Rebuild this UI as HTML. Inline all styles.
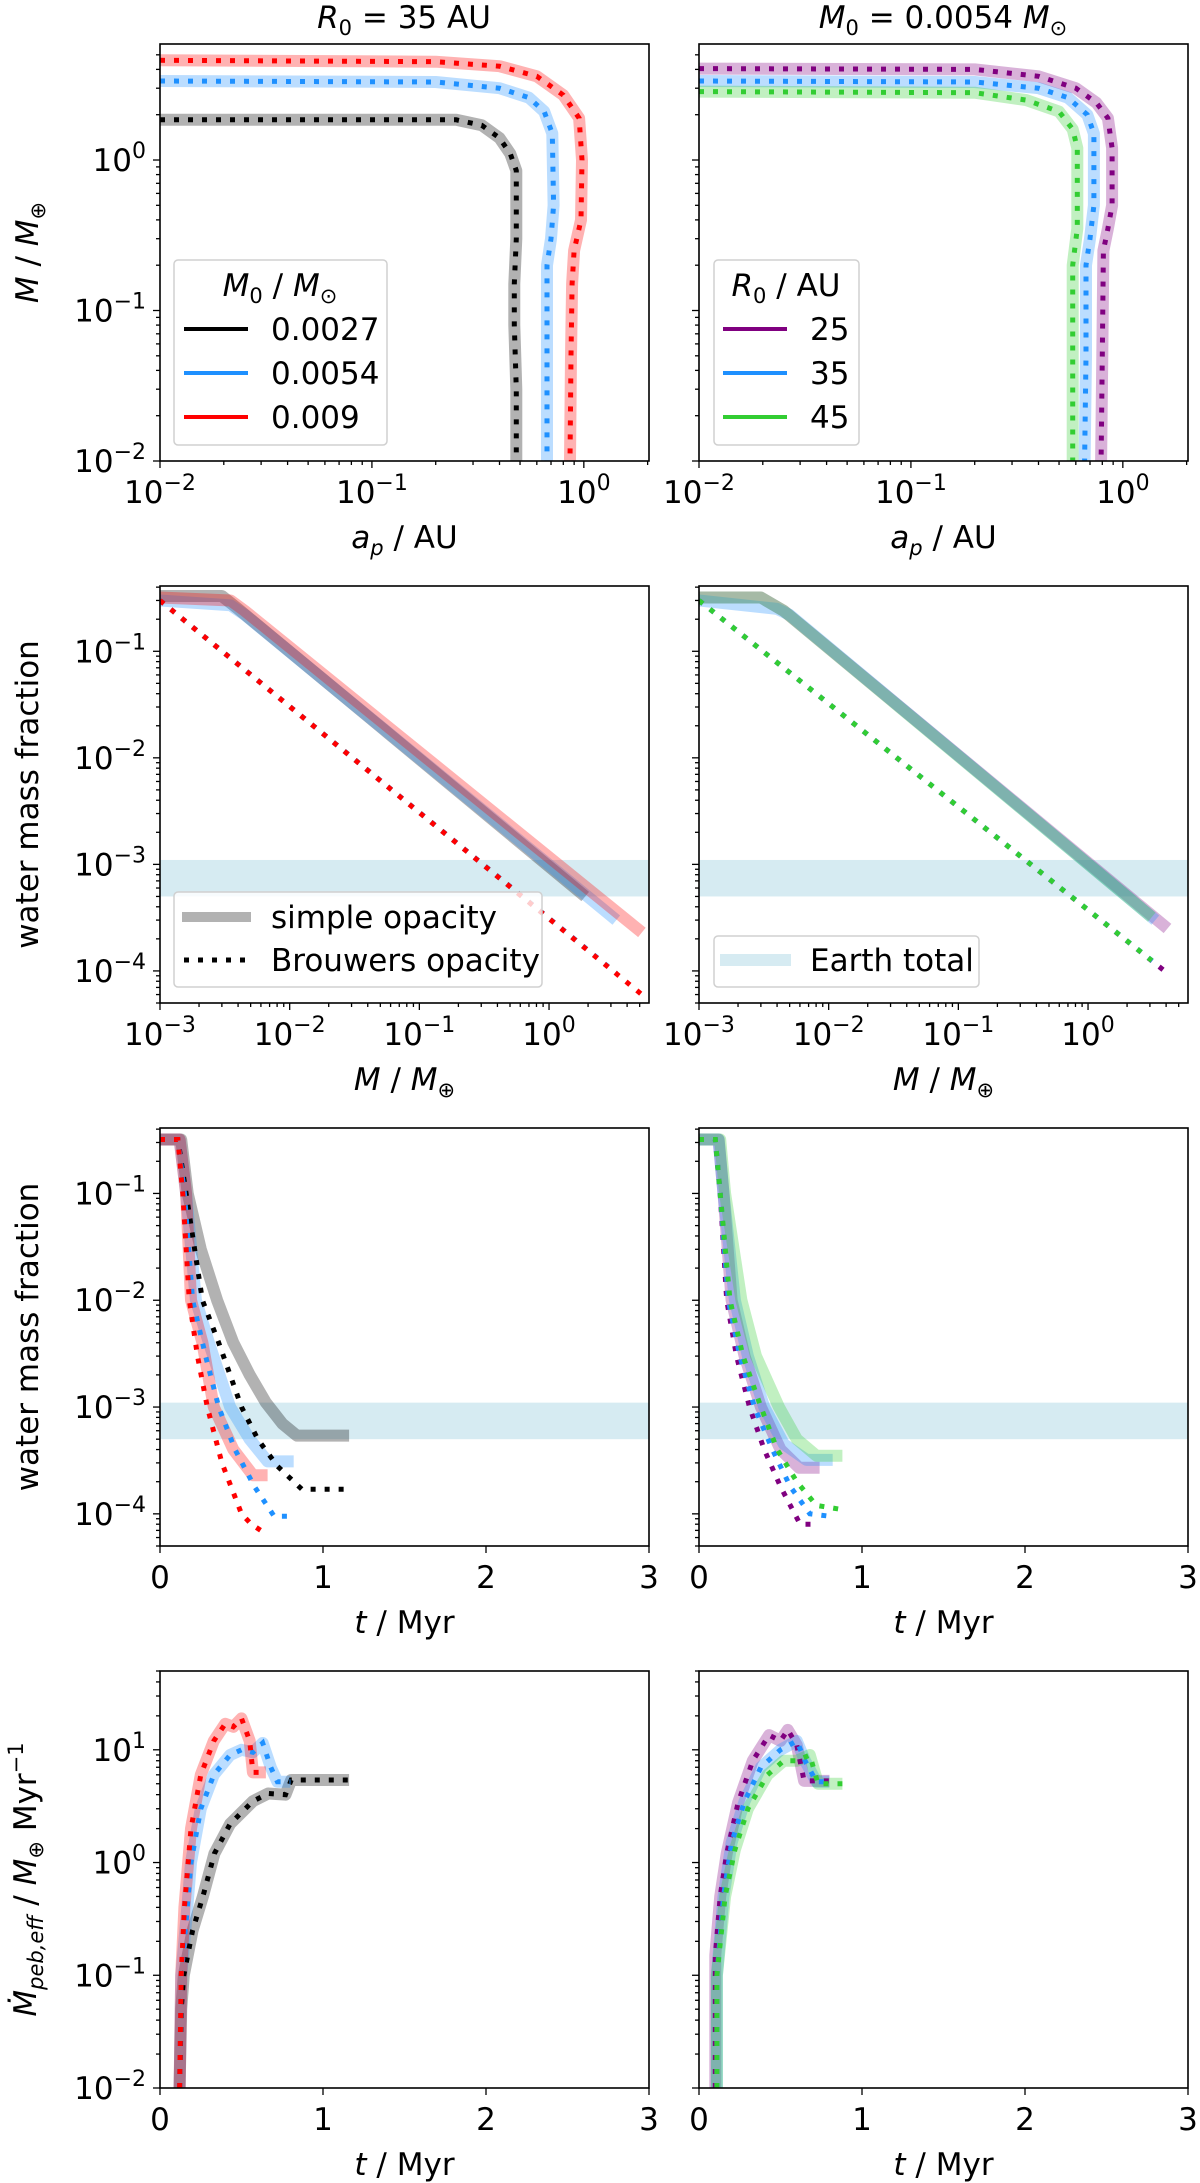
<!DOCTYPE html>
<html><head><meta charset="utf-8"><title>Planet formation panels</title>
<style>
html,body{margin:0;padding:0;background:#fff;}
svg{display:block;font-family:"DejaVu Sans","Liberation Sans",sans-serif;}
</style></head>
<body>
<svg id="fig" width="1200" height="2183" viewBox="0 0 1200 2183" xmlns="http://www.w3.org/2000/svg">
<rect width="1200" height="2183" fill="#fff"/>
<text x="404" y="28" font-size="31" text-anchor="middle"><tspan font-style="italic">R</tspan><tspan font-size="21" dy="7">0</tspan><tspan dy="-7"> = 35 AU</tspan></text>
<text x="943" y="28" font-size="31" text-anchor="middle"><tspan font-style="italic">M</tspan><tspan font-size="21" dy="7">0</tspan><tspan dy="-7"> = 0.0054 </tspan><tspan font-style="italic">M</tspan><tspan font-size="21" dy="7">⊙</tspan></text>
<g id="plots"></g>
</svg>
<script>
// ---------- Row 1: a_p vs M ----------
const r1_a_black=[0.01,0.25,0.33,0.4,0.45,0.48,0.48,0.47,0.47,0.48,0.48];
const r1_m_black=[1.85,1.85,1.7,1.4,1.1,0.85,0.3,0.15,0.08,0.03,0.01];
const r1_a_blue=[0.01,0.2,0.4,0.55,0.65,0.71,0.72,0.7,0.67,0.67,0.67];
const r1_m_blue=[3.35,3.3,3.0,2.6,2.1,1.5,0.5,0.3,0.2,0.05,0.01];
const r1_a_red=[0.01,0.2,0.4,0.6,0.8,0.95,0.98,0.97,0.9,0.88,0.87,0.86];
const r1_m_red=[4.6,4.5,4.2,3.6,2.7,1.9,1.0,0.4,0.25,0.15,0.05,0.01];
const r1_a_purple=[0.01,0.2,0.4,0.6,0.75,0.85,0.89,0.89,0.85,0.81,0.8,0.79];
const r1_m_purple=[4.05,4.0,3.6,3.0,2.4,1.9,1.2,0.5,0.35,0.25,0.05,0.01];
const r1_a_blue2=[0.01,0.2,0.4,0.55,0.68,0.73,0.73,0.7,0.67,0.67,0.66];
const r1_m_blue2=[3.35,3.3,3.0,2.6,2.0,1.5,0.5,0.3,0.2,0.05,0.01];
const r1_a_green=[0.01,0.2,0.35,0.5,0.58,0.61,0.61,0.58,0.58,0.58];
const r1_m_green=[2.85,2.8,2.5,2.1,1.6,1.2,0.35,0.2,0.05,0.01];
// ---------- Row 2: M vs water fraction ----------
const r2_m_grey=[1e-3,3e-3,4e-3,1.9];   const r2_w_grey=[0.33,0.33,0.25,5e-4];
const r2_m_blue=[1e-3,3.5e-3,4.5e-3,3.3]; const r2_w_blue=[0.30,0.27,0.22,3e-4];
const r2_m_red=[1e-3,3.5e-3,4.5e-3,5.2];  const r2_w_red=[0.32,0.30,0.24,2.3e-4];
const r2_md_black=[1e-3,1.9]; const r2_wd_black=[0.30,1.64e-4];
const r2_md_blue=[1e-3,3.3];  const r2_wd_blue=[0.30,9.5e-5];
const r2_md_red=[1e-3,5.2];   const r2_wd_red=[0.30,6e-5];
const r2_m_purple=[1e-3,3e-3,4.5e-3,4.1]; const r2_w_purple=[0.32,0.32,0.24,2.5e-4];
const r2_m_blueR=[1e-3,4e-3,5e-3,3.3];    const r2_w_blueR=[0.30,0.25,0.22,3e-4];
const r2_m_green=[1e-3,3e-3,4.5e-3,3.1];  const r2_w_green=[0.32,0.32,0.24,3.2e-4];
const r2_md_purple=[1e-3,4.1]; const r2_wd_purple=[0.30,9.5e-5];
const r2_md_blueR=[1e-3,3.3];  const r2_wd_blueR=[0.30,1.18e-4];
const r2_md_green=[1e-3,3.1];  const r2_wd_green=[0.30,1.25e-4];
const earthBand=[5e-4,1.1e-3];
// ---------- Row 3: t vs water fraction ----------
const r3_t_grey=[0,0.13,0.17,0.25,0.35,0.45,0.55,0.65,0.75,0.84,1.16];
const r3_w_grey=[0.32,0.32,0.1,0.03,0.01,0.004,0.002,0.0011,0.0007,0.00054,0.00054];
const r3_t_blue=[0,0.12,0.16,0.22,0.3,0.43,0.55,0.66,0.82];
const r3_w_blue=[0.32,0.32,0.1,0.01,0.004,0.001,0.0005,0.00031,0.00031];
const r3_t_red=[0,0.12,0.16,0.19,0.26,0.33,0.45,0.57,0.66];
const r3_w_red=[0.32,0.32,0.1,0.01,0.004,0.001,0.0004,0.00023,0.00023];
const r3_td_black=[0,0.11,0.16,0.26,0.36,0.5,0.6,0.72,0.87,1.16];
const r3_wd_black=[0.32,0.32,0.1,0.01,0.004,0.001,0.0005,0.00028,0.00017,0.00017];
const r3_td_blue=[0,0.11,0.15,0.2,0.28,0.36,0.46,0.58,0.7,0.8];
const r3_wd_blue=[0.32,0.32,0.1,0.01,0.003,0.001,0.0004,0.00018,0.000095,0.000095];
const r3_td_red=[0,0.11,0.14,0.18,0.23,0.29,0.38,0.5,0.56,0.63];
const r3_wd_red=[0.32,0.32,0.1,0.01,0.003,0.001,0.0003,0.0001,0.00008,0.000068];
const r3_t_purple=[0,0.12,0.15,0.2,0.28,0.38,0.5,0.615,0.74];
const r3_w_purple=[0.32,0.32,0.1,0.01,0.003,0.001,0.0004,0.00027,0.00027];
const r3_t_blueR=[0,0.12,0.15,0.22,0.3,0.4,0.52,0.66,0.82];
const r3_w_blueR=[0.32,0.32,0.1,0.01,0.003,0.001,0.00045,0.00032,0.00032];
const r3_t_green=[0,0.13,0.16,0.26,0.35,0.49,0.6,0.72,0.88];
const r3_w_green=[0.32,0.32,0.1,0.01,0.003,0.001,0.0005,0.00035,0.00035];
const r3_td_purple=[0,0.1,0.13,0.17,0.23,0.31,0.4,0.5,0.62,0.7];
const r3_wd_purple=[0.32,0.32,0.1,0.01,0.003,0.001,0.0004,0.00018,0.00008,0.00008];
const r3_td_blueR=[0,0.1,0.13,0.18,0.25,0.34,0.45,0.56,0.68,0.8];
const r3_wd_blueR=[0.32,0.32,0.1,0.01,0.003,0.001,0.0004,0.00018,0.0001,0.000095];
const r3_td_green=[0,0.1,0.13,0.19,0.27,0.38,0.48,0.6,0.72,0.87];
const r3_wd_green=[0.32,0.32,0.1,0.01,0.003,0.001,0.0004,0.0002,0.00012,0.00011];
// ---------- Row 4: t vs pebble accretion ----------
const r4_t_black=[0.12,0.13,0.146,0.2,0.263,0.334,0.43,0.57,0.664,0.77,0.805,1.16];
const r4_r_black=[0.01,0.05,0.1,0.25,0.5,1.2,2.2,3.5,4.1,4.0,5.4,5.4];
const r4_t_blue=[0.12,0.13,0.16,0.19,0.25,0.33,0.43,0.5,0.57,0.63,0.68,0.72,0.8];
const r4_r_blue=[0.01,0.1,0.3,1.0,3,6,9,10,9.5,11.5,7,5.2,5.2];
const r4_t_red=[0.12,0.13,0.15,0.19,0.25,0.33,0.4,0.45,0.5,0.55,0.57,0.65];
const r4_r_red=[0.01,0.1,0.4,2,6,12,17,16,19,12,6.3,6.3];
const r4_t_purple=[0.1,0.1,0.13,0.17,0.24,0.33,0.43,0.5,0.545,0.6,0.645,0.8];
const r4_r_purple=[0.01,0.15,0.5,1.2,3.4,8,13.5,12,15,11,5.3,5.3];
const r4_t_blueR=[0.11,0.11,0.15,0.2,0.28,0.38,0.5,0.6,0.65,0.72,0.8];
const r4_r_blueR=[0.01,0.1,0.5,1.5,3.5,7,10,12,8,5.2,5.2];
const r4_t_green=[0.11,0.11,0.16,0.22,0.3,0.42,0.52,0.6,0.68,0.73,0.88];
const r4_r_green=[0.01,0.1,0.5,1.3,3,6,8,8,9,5,5];

const NS='http://www.w3.org/2000/svg';
const root=document.getElementById('plots');
const C={black:'#000000',blue:'#1e90ff',red:'#ff0000',purple:'#800080',green:'#32cd32'};
function mk(tag,attrs,parent){const e=document.createElementNS(NS,tag);for(const k in attrs)e.setAttribute(k,attrs[k]);(parent||root).appendChild(e);return e;}
function axis(d0,d1,p0,p1,log){
  if(log){const a=Math.log10(d0),b=Math.log10(d1);return v=>p0+(Math.log10(v)-a)/(b-a)*(p1-p0);}
  return v=>p0+(v-d0)/(d1-d0)*(p1-p0);
}
function makePanel(id,x0,x1,y0,y1,xd,yd,xlog,showY){
  const p={id,x0,x1,y0,y1,X:axis(xd[0],xd[1],x0,x1,xlog),Y:axis(yd[0],yd[1],y1,y0,true),xd,yd,xlog,showY};
  const cp=mk('clipPath',{id:'clip-'+id});mk('rect',{x:x0,y:y0,width:x1-x0,height:y1-y0},cp);
  p.g=mk('g',{'clip-path':'url(#clip-'+id+')'});
  
  
  return p;
}
function line(p,xs,ys,color,kind,name){
  const d=xs.map((x,i)=>(i?'L':'M')+p.X(x).toFixed(1)+' '+p.Y(ys[i]).toFixed(1)).join(' ');
  const a=kind==='solid'?{d,fill:'none',stroke:color,'stroke-width':12,'stroke-opacity':0.3,'stroke-linejoin':'round'}
                        :{d,fill:'none',stroke:color,'stroke-width':5,'stroke-dasharray':'5 9'};
  const e=mk('path',a,p.g);
  
  
}
function band(p){
  const e=mk('rect',{x:p.x0,y:p.Y(earthBand[1]),width:p.x1-p.x0,height:p.Y(earthBand[0])-p.Y(earthBand[1]),fill:'#add8e6','fill-opacity':0.5},p.g);
  
  
}
function pow(g,x,y,exp,anchor){
  const t=mk('text',{x,y,'font-size':31,'text-anchor':anchor},g);
  t.textContent='10';
  const s=mk('tspan',{'font-size':22,dy:-13},t);s.textContent=exp;
  return t;
}
function frame(p){
  const g=mk('g',{});
  
  
  mk('rect',{x:p.x0,y:p.y0,width:p.x1-p.x0,height:p.y1-p.y0,fill:'none',stroke:'#000','stroke-width':1.6},g);
  const a=Math.floor(Math.log10(p.yd[0])),b=Math.ceil(Math.log10(p.yd[1]));
  for(let e=a;e<=b;e++)for(let m=1;m<10;m++){
    const v=m*Math.pow(10,e);if(v<p.yd[0]*0.999||v>p.yd[1]*1.001)continue;
    const y=p.Y(v);mk('line',{x1:p.x0,x2:p.x0-(m===1?7:4),y1:y,y2:y,stroke:'#000','stroke-width':1.3},g);
    if(m===1&&p.showY){const t=pow(g,p.x0-14,y+11,e<0?'−'+(-e):String(e),'end');
      
      }
  }
  if(p.xlog){
    const xa=Math.floor(Math.log10(p.xd[0])),xb=Math.ceil(Math.log10(p.xd[1]));
    for(let e=xa;e<=xb;e++)for(let m=1;m<10;m++){
      const v=m*Math.pow(10,e);if(v<p.xd[0]*0.999||v>p.xd[1]*1.001)continue;
      const x=p.X(v);mk('line',{x1:x,x2:x,y1:p.y1,y2:p.y1+(m===1?7:4),stroke:'#000','stroke-width':1.3},g);
      if(m===1){const t=pow(g,x,p.y1+42,e<0?'−'+(-e):String(e),'middle');
        
        }
    }
  } else {
    for(let v=0;v<=3;v++){const x=p.X(v);mk('line',{x1:x,x2:x,y1:p.y1,y2:p.y1+7,stroke:'#000','stroke-width':1.3},g);
      const t=mk('text',{x,y:p.y1+42,'font-size':31,'text-anchor':'middle'},g);t.textContent=String(v);
      
      }
  }
}
function xlabel(p,html){
  const t=mk('text',{x:(p.x0+p.x1)/2,y:p.y1+87,'font-size':31,'text-anchor':'middle'});
  t.innerHTML=html;
  
  
}
function ylabel(p,html,cx){
  const cy=(p.y0+p.y1)/2;
  const t=mk('text',{x:cx,y:cy,'font-size':31,'text-anchor':'middle',transform:'rotate(-90 '+cx+' '+cy+')'});
  t.innerHTML=html;
  
  
}
const L=[160,649],R=[699,1188];
const rows=[[44,461],[586,1003],[1128,1546],[1671,2088]];

const p1l=makePanel('mass-vs-ap-left',L[0],L[1],rows[0][0],rows[0][1],[0.01,2.03],[0.01,5.9],true,true);
const p1r=makePanel('mass-vs-ap-right',R[0],R[1],rows[0][0],rows[0][1],[0.01,2.03],[0.01,5.9],true,false);
[['black',r1_a_black,r1_m_black],['blue',r1_a_blue,r1_m_blue],['red',r1_a_red,r1_m_red]].forEach(s=>line(p1l,s[1],s[2],C[s[0]],'solid','track-'+s[0]+'-simple'));
[['black',r1_a_black,r1_m_black],['blue',r1_a_blue,r1_m_blue],['red',r1_a_red,r1_m_red]].forEach(s=>line(p1l,s[1],s[2],C[s[0]],'dot','track-'+s[0]+'-brouwers'));
[['purple',r1_a_purple,r1_m_purple],['blue',r1_a_blue2,r1_m_blue2],['green',r1_a_green,r1_m_green]].forEach(s=>line(p1r,s[1],s[2],C[s[0]],'solid','track-'+s[0]+'-simple'));
[['purple',r1_a_purple,r1_m_purple],['blue',r1_a_blue2,r1_m_blue2],['green',r1_a_green,r1_m_green]].forEach(s=>line(p1r,s[1],s[2],C[s[0]],'dot','track-'+s[0]+'-brouwers'));
frame(p1l);frame(p1r);
xlabel(p1l,'<tspan font-style="italic">a</tspan><tspan font-style="italic" font-size="21" dy="7">p</tspan><tspan dy="-7"> / AU</tspan>');
xlabel(p1r,'<tspan font-style="italic">a</tspan><tspan font-style="italic" font-size="21" dy="7">p</tspan><tspan dy="-7"> / AU</tspan>');
ylabel(p1l,'<tspan font-style="italic">M</tspan> / <tspan font-style="italic">M</tspan><tspan font-size="21" dy="7">⊕</tspan>',38);

const p2l=makePanel('water-vs-mass-left',L[0],L[1],rows[1][0],rows[1][1],[1e-3,5.9],[5e-5,0.41],true,true);
const p2r=makePanel('water-vs-mass-right',R[0],R[1],rows[1][0],rows[1][1],[1e-3,5.9],[5e-5,0.41],true,false);
band(p2l);band(p2r);
line(p2l,r2_m_grey,r2_w_grey,C.black,'solid','water-black-simple');
line(p2l,r2_m_blue,r2_w_blue,C.blue,'solid','water-blue-simple');
line(p2l,r2_m_red,r2_w_red,C.red,'solid','water-red-simple');
line(p2l,r2_md_black,r2_wd_black,C.black,'dot','water-black-brouwers');
line(p2l,r2_md_blue,r2_wd_blue,C.blue,'dot','water-blue-brouwers');
line(p2l,r2_md_red,r2_wd_red,C.red,'dot','water-red-brouwers');
line(p2r,r2_m_purple,r2_w_purple,C.purple,'solid','water-purple-simple');
line(p2r,r2_m_blueR,r2_w_blueR,C.blue,'solid','water-blue-simple');
line(p2r,r2_m_green,r2_w_green,C.green,'solid','water-green-simple');
line(p2r,r2_md_purple,r2_wd_purple,C.purple,'dot','water-purple-brouwers');
line(p2r,r2_md_blueR,r2_wd_blueR,C.blue,'dot','water-blue-brouwers');
line(p2r,r2_md_green,r2_wd_green,C.green,'dot','water-green-brouwers');
frame(p2l);frame(p2r);
xlabel(p2l,'<tspan font-style="italic">M</tspan> / <tspan font-style="italic">M</tspan><tspan font-size="21" dy="7">⊕</tspan>');
xlabel(p2r,'<tspan font-style="italic">M</tspan> / <tspan font-style="italic">M</tspan><tspan font-size="21" dy="7">⊕</tspan>');
ylabel(p2l,'water mass fraction',38);

const p3l=makePanel('water-vs-time-left',L[0],L[1],rows[2][0],rows[2][1],[0,3],[5e-5,0.41],false,true);
const p3r=makePanel('water-vs-time-right',R[0],R[1],rows[2][0],rows[2][1],[0,3],[5e-5,0.41],false,false);
band(p3l);band(p3r);
line(p3l,r3_t_grey,r3_w_grey,C.black,'solid','wt-black-simple');
line(p3l,r3_t_blue,r3_w_blue,C.blue,'solid','wt-blue-simple');
line(p3l,r3_t_red,r3_w_red,C.red,'solid','wt-red-simple');
line(p3l,r3_td_black,r3_wd_black,C.black,'dot','wt-black-brouwers');
line(p3l,r3_td_blue,r3_wd_blue,C.blue,'dot','wt-blue-brouwers');
line(p3l,r3_td_red,r3_wd_red,C.red,'dot','wt-red-brouwers');
line(p3r,r3_t_purple,r3_w_purple,C.purple,'solid','wt-purple-simple');
line(p3r,r3_t_blueR,r3_w_blueR,C.blue,'solid','wt-blue-simple');
line(p3r,r3_t_green,r3_w_green,C.green,'solid','wt-green-simple');
line(p3r,r3_td_purple,r3_wd_purple,C.purple,'dot','wt-purple-brouwers');
line(p3r,r3_td_blueR,r3_wd_blueR,C.blue,'dot','wt-blue-brouwers');
line(p3r,r3_td_green,r3_wd_green,C.green,'dot','wt-green-brouwers');
frame(p3l);frame(p3r);
xlabel(p3l,'<tspan font-style="italic">t</tspan> / Myr');
xlabel(p3r,'<tspan font-style="italic">t</tspan> / Myr');
ylabel(p3l,'water mass fraction',38);

const p4l=makePanel('pebble-rate-left',L[0],L[1],rows[3][0],rows[3][1],[0,3],[0.01,50],false,true);
const p4r=makePanel('pebble-rate-right',R[0],R[1],rows[3][0],rows[3][1],[0,3],[0.01,50],false,false);
line(p4l,r4_t_black,r4_r_black,C.black,'solid','rate-black-simple');
line(p4l,r4_t_blue,r4_r_blue,C.blue,'solid','rate-blue-simple');
line(p4l,r4_t_red,r4_r_red,C.red,'solid','rate-red-simple');
line(p4l,r4_t_black,r4_r_black,C.black,'dot','rate-black-brouwers');
line(p4l,r4_t_blue,r4_r_blue,C.blue,'dot','rate-blue-brouwers');
line(p4l,r4_t_red,r4_r_red,C.red,'dot','rate-red-brouwers');
line(p4r,r4_t_purple,r4_r_purple,C.purple,'solid','rate-purple-simple');
line(p4r,r4_t_blueR,r4_r_blueR,C.blue,'solid','rate-blue-simple');
line(p4r,r4_t_green,r4_r_green,C.green,'solid','rate-green-simple');
line(p4r,r4_t_purple,r4_r_purple,C.purple,'dot','rate-purple-brouwers');
line(p4r,r4_t_blueR,r4_r_blueR,C.blue,'dot','rate-blue-brouwers');
line(p4r,r4_t_green,r4_r_green,C.green,'dot','rate-green-brouwers');
frame(p4l);frame(p4r);
xlabel(p4l,'<tspan font-style="italic">t</tspan> / Myr');
xlabel(p4r,'<tspan font-style="italic">t</tspan> / Myr');
ylabel(p4l,'<tspan font-style="italic">Ṁ</tspan><tspan font-style="italic" font-size="21" dy="7">peb,eff</tspan><tspan dy="-7"> / </tspan><tspan font-style="italic">M</tspan><tspan font-size="21" dy="7">⊕</tspan><tspan dy="-7">  Myr</tspan><tspan font-size="21" dy="-13">−1</tspan>',36);

function legendBox(x,y,w,h,name){
  const g=mk('g',{});
  
  
  mk('rect',{x,y,width:w,height:h,rx:4,fill:'#fff','fill-opacity':0.8,stroke:'#d0d0d0','stroke-width':1.5},g);
  return g;
}
function txt(g,x,y,html,anchor,name){
  const t=mk('text',{x,y,'font-size':31,'text-anchor':anchor||'start'},g);t.innerHTML=html;
  
  
  return t;
}
let g=legendBox(174,260,213,185,'legend-disc-mass');
txt(g,280,296,'<tspan font-style="italic">M</tspan><tspan font-size="21" dy="7">0</tspan><tspan dy="-7"> / </tspan><tspan font-style="italic">M</tspan><tspan font-size="21" dy="7">⊙</tspan>','middle','legend-title');
[['black','0.0027',329],['blue','0.0054',373],['red','0.009',417]].forEach(s=>{
  mk('line',{x1:184,x2:248,y1:s[2],y2:s[2],stroke:C[s[0]],'stroke-width':4},g);
  txt(g,271,s[2]+11,s[1],'start','legend-entry');});
g=legendBox(714,260,145,185,'legend-disc-radius');
txt(g,786,296,'<tspan font-style="italic">R</tspan><tspan font-size="21" dy="7">0</tspan><tspan dy="-7"> / AU</tspan>','middle','legend-title');
[['purple','25',329],['blue','35',373],['green','45',417]].forEach(s=>{
  mk('line',{x1:723,x2:787,y1:s[2],y2:s[2],stroke:C[s[0]],'stroke-width':4},g);
  txt(g,810,s[2]+11,s[1],'start','legend-entry');});
g=legendBox(174,892,368,95,'legend-opacity');
mk('line',{x1:182,x2:251,y1:917,y2:917,stroke:'#000','stroke-width':10,'stroke-opacity':0.3},g);
txt(g,271,928,'simple opacity','start','legend-entry');
mk('line',{x1:184,x2:251,y1:960,y2:960,stroke:'#000','stroke-width':5,'stroke-dasharray':'5 9'},g);
txt(g,271,971,'Brouwers opacity','start','legend-entry');
g=legendBox(714,936,265,51,'legend-earth');
mk('rect',{x:720,y:954,width:71,height:12,fill:'#add8e6','fill-opacity':0.5},g);
txt(g,810,971,'Earth total','start','legend-entry');
</script>
</body></html>
